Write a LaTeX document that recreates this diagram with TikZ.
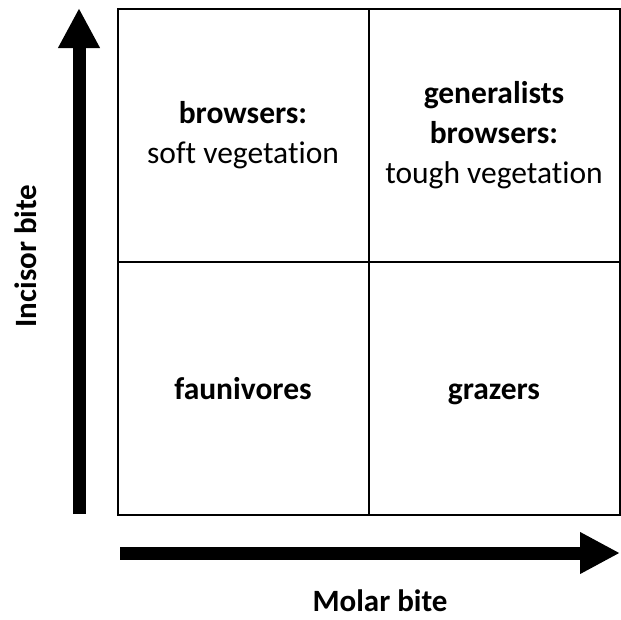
\documentclass[tikz,border=0pt]{standalone}
\usepackage{fontspec}
\setmainfont{Carlito}[Ligatures=NoCommon]
\usetikzlibrary{arrows.meta}
\newcommand{\cellstrut}{\rule[-12pt]{0pt}{46pt}}
\tikzset{
    cell/.style={draw,line width=2pt,minimum width=251pt,minimum height=253pt,inner sep=0pt,align=center,font=\fontsize{31.5}{40}\selectfont},
    axis/.style={line width=13pt,-{Triangle[length=40pt,width=39pt]}},
    axislabel/.style={font=\fontsize{31}{40}\selectfont\bfseries}
}

\begin{document}
\begin{tikzpicture}[x=1pt,y=-1pt]
    \useasboundingbox (0,0) rectangle (621,619);
    \node[cell] at (243,135.5) (tl) {\textbf{browsers:}\\soft vegetation};
    \node[cell] at (494,135.5) (tr) {\textbf{generalists}\\\textbf{browsers:}\\tough vegetation};
    \node[cell] at (243,388.5) (bl) {\cellstrut\textbf{faunivores}};
    \node[cell] at (494,388.5) (br) {\cellstrut\textbf{grazers}};
    \coordinate (y0) at (79,514);
    \coordinate (y1) at (79,8);
    \coordinate (x0) at (120,553);
    \coordinate (x1) at (620,553);
    \draw[axis] (y0) -- (y1);
    \draw[axis] (x0) -- (x1);
    \node[axislabel,rotate=90] at (26,256) (ylab) {Incisor bite};
    \node[axislabel] at (380,601) (xlab) {Molar bite};
\end{tikzpicture}
\end{document}
